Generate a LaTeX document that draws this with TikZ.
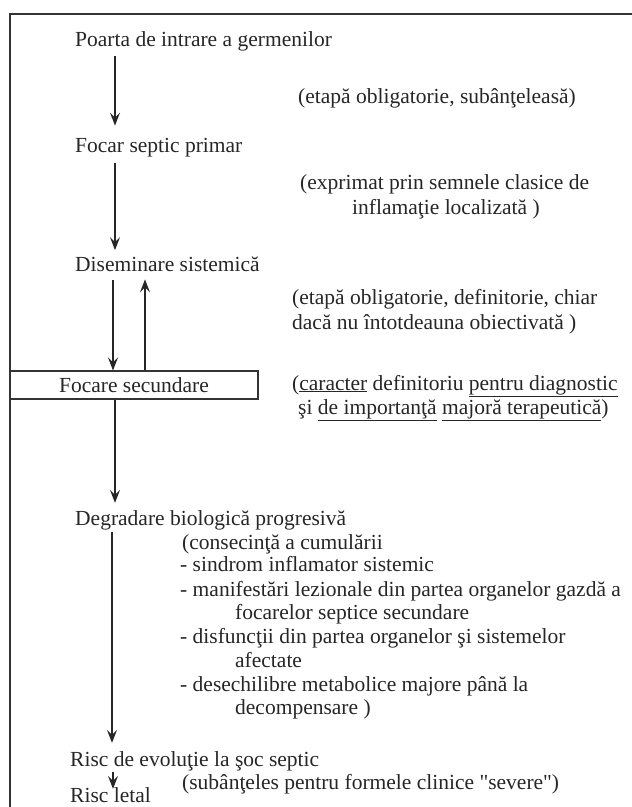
\documentclass[tikz,border=0pt]{standalone}
\usepackage{fontspec}
\setmainfont{Liberation Serif}
\usetikzlibrary{arrows.meta,positioning,calc}

\begin{document}
\begin{tikzpicture}[
  x=1pt, y=-1pt,
  every node/.style={font=\fontsize{21.5}{25}\selectfont, inner sep=0pt, anchor=base west},
  stage/.style={text=black!85},
  note/.style={text=black!85},
  arr/.style={-{Stealth[length=13pt,width=10pt,inset=5pt]}, line width=1.4pt, black!85},
  framebox/.style={draw=black!80, line width=1.5pt},
]
\useasboundingbox (0,0) rectangle (632,807);

% Frame
\draw[framebox] (10,807) |- (632,14);
\coordinate (col) at (115,0);

% Stages
\node[stage] (poarta) at (75,46) {Poarta de intrare a germenilor};
\node[stage] (focar) at (75,152) {Focar septic primar};
\node[stage] (disem) at (75,271) {Diseminare sistemică};
\node[stage, draw=black!80, line width=1.1pt, anchor=center, minimum width=248pt,
      minimum height=28pt] (secund) at (134,385) {Focare secundare};
\node[stage] (degrad) at (75,525) {Degradare biologică progresivă};
\node[stage] (soc) at (70,766) {Risc de evoluţie la şoc septic};
\node[stage] (letal) at (70,802) {Risc letal};

% Notes
\node[note] (n1) at (298,103) {(etapă obligatorie, subânţeleasă)};
\node[note] (n2a) at (300,189) {(exprimat prin semnele clasice de};
\node[note] (n2b) at (352,214) {inflamaţie localizată )};
\node[note] (n3a) at (292,304) {(etapă obligatorie, definitorie, chiar};
\node[note] (n3b) at (292,329) {dacă nu întotdeauna obiectivată )};
\node[note] (n4a) at (292,390) {(\underline{caracter} definitoriu \underline{pentru diagnostic}};
\node[note] (n4b) at (298,414) {şi \underline{de importanţă} \underline{majoră terapeutică})};
\node[note] (n5) at (182,549) {(consecinţă a cumulării};
\node[note] (n5a) at (180,571) {- sindrom inflamator sistemic};
\node[note] (n5b) at (180,596) {- manifestări lezionale din partea organelor gazdă a};
\node[note] (n5c) at (235,619) {focarelor septice secundare};
\node[note] (n5d) at (180,643) {- disfuncţii din partea organelor şi sistemelor};
\node[note] (n5e) at (235,667) {afectate};
\node[note] (n5f) at (180,691) {- desechilibre metabolice majore până la};
\node[note] (n5g) at (235,714) {decompensare )};
\node[note] (n6) at (182,789) {(subânţeles pentru formele clinice \textquotedbl severe\textquotedbl)};

% Arrows
\draw[arr, shorten <=5pt, shorten >=12pt] (poarta.south -| col) -- (focar.north -| col);
\draw[arr, shorten <=6pt, shorten >=6pt] (focar.south -| col) -- (disem.north -| col);
\draw[arr, shorten <=9pt] ([xshift=-2pt]disem.south -| col) -- ([xshift=-2pt]secund.north -| col);
\draw[arr, shorten >=8pt] ([xshift=30pt]secund.north -| col) -- ([xshift=30pt]disem.south -| col);
\draw[arr, shorten >=7pt] (secund.south -| col) -- (degrad.north -| col);
\draw[arr, shorten <=2pt, shorten >=8pt] ([xshift=-3pt]degrad.south -| col) -- ([xshift=-3pt]soc.north -| col);
\draw[arr, shorten <=1pt, shorten >=-2pt] ([xshift=-2pt]soc.south -| col) -- ([xshift=-2pt]letal.north -| col);

\end{tikzpicture}
\end{document}
